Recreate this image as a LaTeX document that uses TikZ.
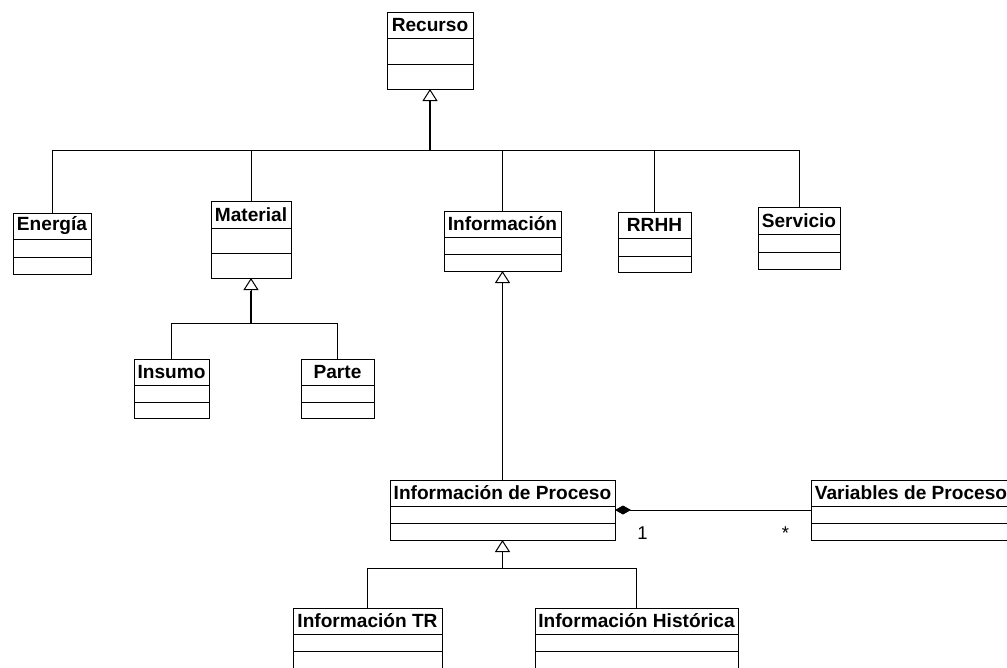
\documentclass[tikz,border=0pt]{standalone}
\usepackage{fontspec}
\setmainfont{Liberation Sans}
\usetikzlibrary{arrows.meta}
\usetikzlibrary{positioning}

\begin{document}
\begin{tikzpicture}[x=1pt, y=-1pt]
                \tikzstyle{classname} = [draw, line width=1pt, outer sep=0pt, inner sep=1pt, anchor=north west, minimum height=26, minimum width={#1}, font=\fontsize{19.1}{22}\selectfont\bfseries]
                \tikzstyle{slot} = [draw, line width=1pt, outer sep=0pt, inner sep=0pt, minimum height=17, minimum width={#1}]
                \tikzstyle{gen} = [line width=1pt, -{Triangle[open, length=12pt, width=15pt, line width=1pt]}]
                \tikzstyle{trunk} = [line width=1.6pt]
                \tikzstyle{comp} = [line width=1pt, {Diamond[length=16pt, width=9pt]}-]
                \tikzstyle{mult} = [anchor=base, yshift=-29pt, font=\fontsize{18.5}{21}\selectfont]
                \useasboundingbox (0,0) rectangle (1007,667);
                \clip (0,0) rectangle (1007,667);
                % classes
                \node[classname=86] (recurso) at (387,12) {Recurso};
                \node[slot=86, minimum height=26, below=0pt of recurso] (recurso-at) {};
                \node[slot=86, minimum height=25, below=0pt of recurso-at] (recurso-op) {};
                \node[classname=78] (energia) at (13,213) {Energía};
                \node[slot=78, minimum height=18, below=0pt of energia] (energia-at) {};
                \node[slot=78, below=0pt of energia-at] (energia-op) {};
                \node[classname=80, minimum height=27] (material) at (211,201) {Material};
                \node[slot=80, minimum height=25, below=0pt of material] (material-at) {};
                \node[slot=80, minimum height=25, below=0pt of material-at] (material-op) {};
                \node[classname=117] (informacion) at (444,211) {Información};
                \node[slot=117, below=0pt of informacion] (informacion-at) {};
                \node[slot=117, below=0pt of informacion-at] (informacion-op) {};
                \node[classname=73] (rrhh) at (618,212) {RRHH};
                \node[slot=73, minimum height=18, below=0pt of rrhh] (rrhh-at) {};
                \node[slot=73, minimum height=16, below=0pt of rrhh-at] (rrhh-op) {};
                \node[classname=82, minimum height=27] (servicio) at (758,207) {Servicio};
                \node[slot=82, minimum height=18, below=0pt of servicio] (servicio-at) {};
                \node[slot=82, below=0pt of servicio-at] (servicio-op) {};
                \node[classname=75] (insumo) at (134,359) {Insumo};
                \node[slot=75, below=0pt of insumo] (insumo-at) {};
                \node[slot=75, minimum height=16, below=0pt of insumo-at] (insumo-op) {};
                \node[classname=73] (parte) at (301,359) {Parte};
                \node[slot=73, below=0pt of parte] (parte-at) {};
                \node[slot=73, minimum height=16, below=0pt of parte-at] (parte-op) {};
                \node[classname=225] (proceso) at (390,480) {Información de Proceso};
                \node[slot=225, below=0pt of proceso] (proceso-at) {};
                \node[slot=225, below=0pt of proceso-at] (proceso-op) {};
                \node[classname=200] (variables) at (811,480) {Variables de Proceso};
                \node[slot=200, below=0pt of variables] (variables-at) {};
                \node[slot=200, below=0pt of variables-at] (variables-op) {};
                \node[classname=149] (infotr) at (293,608) {Información TR};
                \node[slot=149, below=0pt of infotr] (infotr-at) {};
                \node[slot=149, below=0pt of infotr-at] (infotr-op) {};
                \node[classname=203] (historica) at (535,608) {Información Histórica};
                \node[slot=203, below=0pt of historica] (historica-at) {};
                \node[slot=203, below=0pt of historica-at] (historica-op) {};
                % generalizations
                \coordinate (bus) at (430,150);
                \draw[trunk] (bus) -- ++(0,-50);
                \draw[gen] (bus) -- (recurso-op.south);
                \draw[line width=1pt] (energia.north) |- (bus);
                \draw[line width=1pt] (material.north) |- (bus);
                \draw[line width=1pt] (informacion.north) |- (bus);
                \draw[line width=1pt] (rrhh.north) |- (bus);
                \draw[line width=1pt] (servicio.north) |- (bus);
                \coordinate (matbus) at (251,323);
                \draw[trunk] (matbus) -- ++(0,-32);
                \draw[gen] (matbus) -- (material-op.south);
                \draw[line width=1pt] (insumo.north) |- (matbus);
                \draw[line width=1pt] (parte.north) |- (matbus);
                \draw[gen] (proceso.north) -- (informacion-op.south);
                \coordinate (procbus) at (502.5,568);
                \draw[trunk] (procbus) -- ++(0,-16);
                \draw[gen] (procbus) -- (proceso-op.south);
                \draw[line width=1pt] (infotr.north) |- (procbus);
                \draw[line width=1pt] (historica.north) |- (procbus);
                % composition
                \draw[comp] ([yshift=-4pt]proceso-at.north east) -- node[mult, pos=0.14] {1} node[mult, pos=0.87] {*} ([yshift=-4pt]variables-at.north west);
            \end{tikzpicture}
\end{document}
